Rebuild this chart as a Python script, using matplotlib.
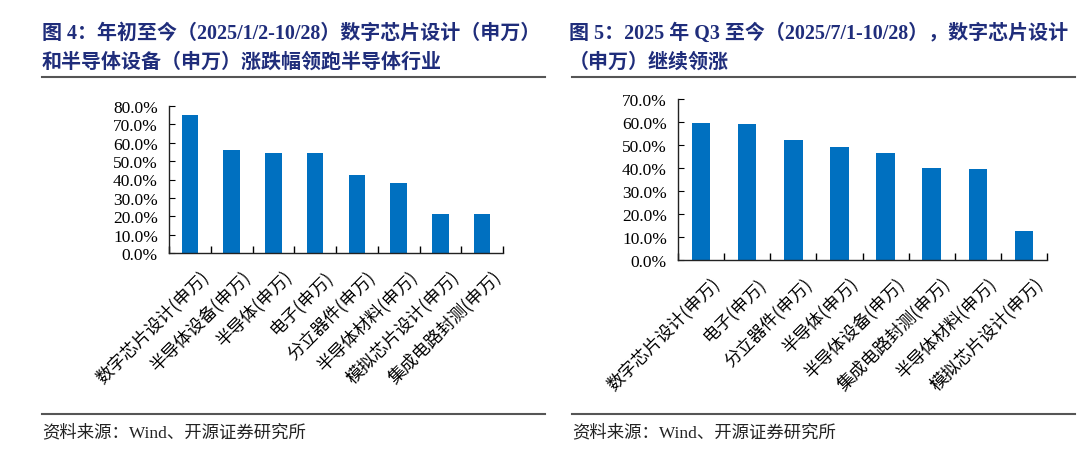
import matplotlib
matplotlib.use("Agg")
import matplotlib.pyplot as plt
import matplotlib.transforms as mtransforms
from matplotlib.ticker import FuncFormatter, MultipleLocator, FixedLocator

plt.rcParams['font.family'] = ['Liberation Serif', 'Noto Sans CJK SC', 'DejaVu Sans']

# left chart: 2025/1/2-10/28
left_cats = ['数字芯片设计(申万)', '半导体设备(申万)', '半导体(申万)', '电子(申万)',
             '分立器件(申万)', '半导体材料(申万)', '模拟芯片设计(申万)', '集成电路封测(申万)']
left_vals = [75.3, 56.0, 54.5, 54.4, 42.4, 38.2, 21.3, 21.3]

# right chart: 2025/7/1-10/28
right_cats = ['数字芯片设计(申万)', '电子(申万)', '分立器件(申万)', '半导体(申万)',
              '半导体设备(申万)', '集成电路封测(申万)', '半导体材料(申万)', '模拟芯片设计(申万)']
right_vals = [59.5, 59.0, 52.1, 49.1, 46.5, 39.8, 39.5, 12.4]

left_title = ['图 4：年初至今（2025/1/2-10/28）数字芯片设计（申万）',
              '和半导体设备（申万）涨跌幅领跑半导体行业']
right_title = ['图 5：2025 年 Q3 至今（2025/7/1-10/28），数字芯片设计',
               '（申万）继续领涨']
source = '资料来源：Wind、开源证券研究所'

W, H = 1080, 452
fig = plt.figure(figsize=(W / 100, H / 100), dpi=100)

bar_color = '#0070C0'
title_color = '#1F2D7B'
line_color = '#555555'


def px_axes(l, t, r, b):
    return fig.add_axes([l / W, 1 - b / H, (r - l) / W, (b - t) / H])


def draw_panel(ax, cats, vals, ymax):
    x = list(range(len(cats)))
    ax.bar(x, vals, width=0.4, color=bar_color, zorder=2)
    ax.set_xlim(-0.5, len(cats) - 0.5)
    ax.set_ylim(0, ymax)
    ax.yaxis.set_major_locator(MultipleLocator(10))
    ax.yaxis.set_major_formatter(FuncFormatter(lambda v, p: f'{v:.1f}%'))
    for s in ['top', 'right']:
        ax.spines[s].set_visible(False)
    for s in ['left', 'bottom']:
        ax.spines[s].set_linewidth(1.0)
        ax.spines[s].set_color('#222222')
    ax.tick_params(axis='y', direction='in', length=4, labelsize=12.5, pad=8)
    ax.set_xticks(x)
    ax.set_xticklabels(cats, rotation=45, ha='right', rotation_mode='anchor',
                       fontsize=12.5, family=['Noto Sans CJK SC'])
    ax.tick_params(axis='x', which='major', length=0, pad=10)
    ax.xaxis.set_minor_locator(FixedLocator([i - 0.5 for i in range(len(cats) + 1)]))
    ax.tick_params(axis='x', which='minor', direction='in', length=5, width=1.0)
    off = mtransforms.ScaledTranslation(9 / 100, 0, fig.dpi_scale_trans)
    for lab in ax.get_xticklabels():
        lab.set_transform(lab.get_transform() + off)


ax1 = px_axes(169, 107, 503, 254)
draw_panel(ax1, left_cats, left_vals, 80)
ax2 = px_axes(678, 100, 1047, 261)
draw_panel(ax2, right_cats, right_vals, 70)

# titles
for i, t in enumerate(left_title):
    fig.text(42 / W, 1 - (34 + 29 * i) / H, t, fontsize=14.4, fontweight='bold',
             color=title_color, va='center', ha='left')
for i, t in enumerate(right_title):
    fig.text(569 / W, 1 - (34 + 29 * i) / H, t, fontsize=14.4, fontweight='bold',
             color=title_color, va='center', ha='left')

# rules
for x0, x1 in [(42, 545), (572, 1075)]:
    fig.add_artist(plt.Line2D([x0 / W, x1 / W], [1 - 78 / H] * 2, color=line_color, lw=1.5))
    fig.add_artist(plt.Line2D([x0 / W, x1 / W], [1 - 415 / H] * 2, color=line_color, lw=1.5))

fig.text(42 / W, 1 - 433 / H, source, fontsize=12.5, color='#222222', va='center', ha='left')
fig.text(572 / W, 1 - 433 / H, source, fontsize=12.5, color='#222222', va='center', ha='left')

fig.savefig('out.png', dpi=100)
